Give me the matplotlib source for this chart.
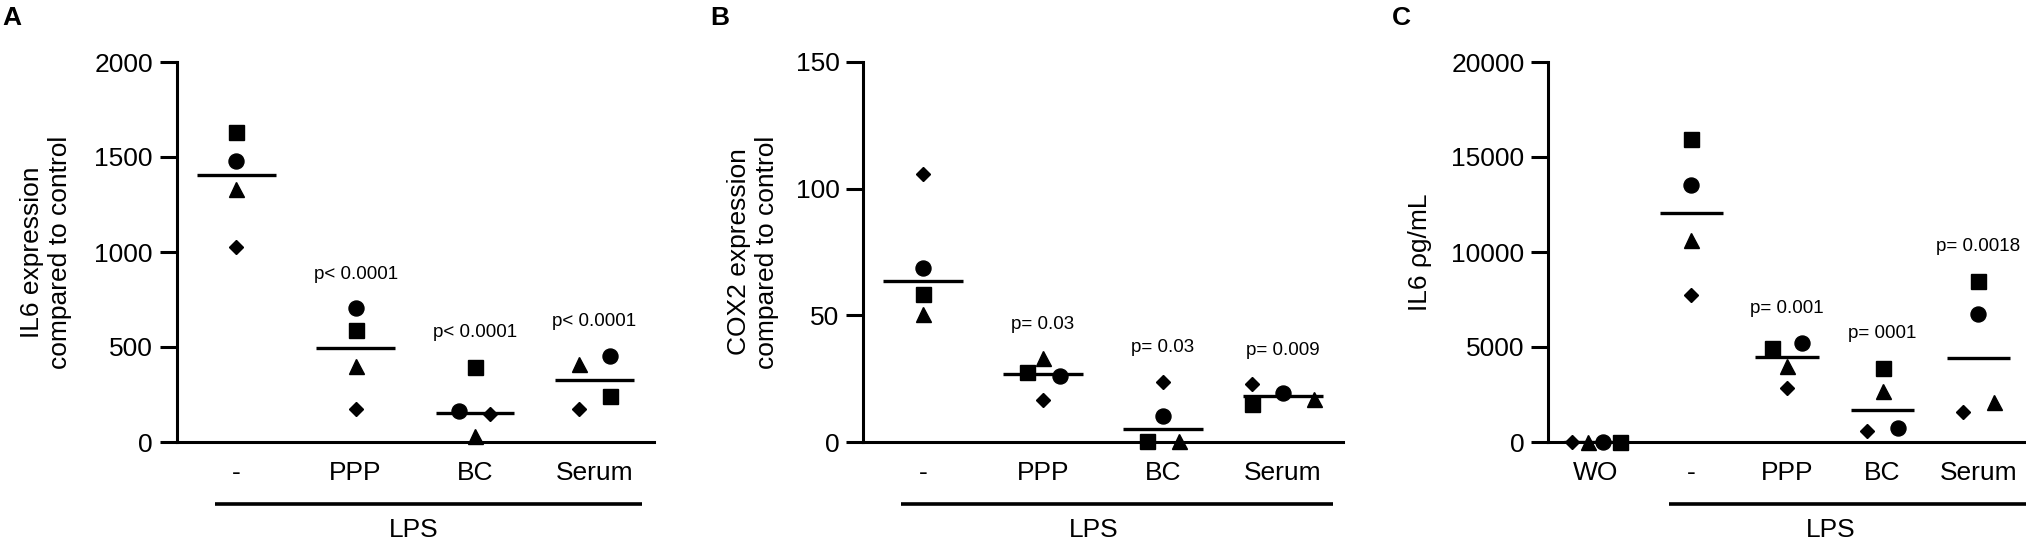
import numpy as np
import matplotlib
matplotlib.use("Agg")
import matplotlib.pyplot as plt

plt.rcParams["font.family"] = ["Liberation Sans", "DejaVu Sans"]

# ---- data ----
# A: IL6 expression compared to control
a_groups = ["-", "PPP", "BC", "Serum"]
a_square = [1634, 592, 397, 240]
a_circle = [1479, 705, 164, 455]
a_triangle = [1333, 401, 33, 410]
a_diamond = [1024, 173, 146, 173]
a_pvalues = ["", "p< 0.0001", "p< 0.0001", "p< 0.0001"]

# B: COX2 expression compared to control
b_groups = ["-", "PPP", "BC", "Serum"]
b_square = [58.5, 27.6, 0.3, 15.0]
b_circle = [68.7, 26.2, 10.2, 19.5]
b_triangle = [50.5, 33.1, 0.3, 17.1]
b_diamond = [105.6, 16.4, 23.8, 22.8]
b_pvalues = ["", "p= 0.03", "p= 0.03", "p= 0.009"]

# C: IL6 pg/mL
c_groups = ["WO", "-", "PPP", "BC", "Serum"]
c_square = [0, 15956, 4950, 3917, 8486]
c_circle = [0, 13509, 5222, 725, 6763]
c_triangle = [0, 10607, 3989, 2684, 2103]
c_diamond = [0, 7760, 2865, 598, 1596]
c_pvalues = ["", "", "p= 0.001", "p= 0001", "p= 0.0018"]

# ---- layout ----
W, H = 2026, 539
FONT = 19
MARKERS = {"s": 10.8, "o": 10.8, "^": 10.8, "D": 7.6}

panels = [
    dict(label="A", groups=a_groups, pvalues=a_pvalues,
         series=[("s", a_square), ("o", a_circle), ("^", a_triangle), ("D", a_diamond)],
         jitter={"s": [0, 0, 0, 0.13], "o": [0, 0, -0.13, 0.13],
                 "^": [0, 0, 0, -0.13], "D": [0, 0, 0.13, -0.13]},
         left=176.5, right=654, ylim=2000, yticks=[0, 500, 1000, 1500, 2000],
         ylabel="IL6 expression\ncompared to control", ylabel_x=46,
         lps=(-0.18, 3.4, 1.49), tag_x=2),
    dict(label="B", groups=b_groups, pvalues=b_pvalues,
         series=[("s", b_square), ("o", b_circle), ("^", b_triangle), ("D", b_diamond)],
         jitter={"s": [0, -0.13, -0.13, -0.26], "o": [0, 0.14, 0, 0],
                 "^": [0, 0, 0.13, 0.26], "D": [0, 0, 0, -0.26]},
         left=863, right=1343, ylim=150, yticks=[0, 50, 100, 150],
         ylabel="COX2 expression\ncompared to control", ylabel_x=753,
         lps=(-0.18, 3.42, 1.42), tag_x=710),
    dict(label="C", groups=c_groups, pvalues=c_pvalues,
         series=[("s", c_square), ("o", c_circle), ("^", c_triangle), ("D", c_diamond)],
         jitter={"s": [0.25, 0, -0.16, 0, 0], "o": [0.08, 0, 0.16, 0.16, 0],
                 "^": [-0.08, 0, 0, 0, 0.17], "D": [-0.25, 0, 0, -0.16, -0.16]},
         left=1548, right=2026, ylim=20000, yticks=[0, 5000, 10000, 15000, 20000],
         ylabel="IL6 \u03c1g/mL", ylabel_x=1420,
         lps=(0.77, 4.5, 2.46), tag_x=1392),
]

AX_BOTTOM, AX_TOP = 442, 62

fig = plt.figure(figsize=(W / 100, H / 100), dpi=100)

for p in panels:
    n = len(p["groups"])
    rect = [p["left"] / W, 1 - AX_BOTTOM / H,
            (p["right"] - p["left"]) / W, (AX_BOTTOM - AX_TOP) / H]
    ax = fig.add_axes(rect)
    x = np.arange(n)

    for marker, values in p["series"]:
        xs = x + np.array(p["jitter"][marker])
        ax.plot(xs, values, linestyle="none", marker=marker, color="black",
                markersize=MARKERS[marker], clip_on=False, zorder=4)

    # median lines
    stacked = np.array([v for _, v in p["series"]], dtype=float)
    medians = np.median(stacked, axis=0)
    ax.hlines(medians, x - 0.33, x + 0.33, color="black", lw=2.4, zorder=3)

    # p-values above the highest point of each group
    tops = stacked.max(axis=0)
    for xi, top, txt in zip(x, tops, p["pvalues"]):
        if txt:
            ax.annotate(txt, xy=(xi, top), xytext=(0, 24.5), textcoords="offset points",
                        ha="center", va="center", fontsize=13.5)

    ax.set_xlim(-0.5, n - 0.5)
    ax.set_ylim(0, p["ylim"])
    ax.set_yticks(p["yticks"])
    ax.set_yticklabels([str(t) for t in p["yticks"]])
    ax.set_xticks(x)
    ax.set_xticklabels(p["groups"])
    ax.tick_params(axis="y", direction="out", length=12, width=2.2, pad=5, labelsize=FONT)
    ax.tick_params(axis="x", length=0, pad=14, labelsize=FONT)
    for side in ("top", "right"):
        ax.spines[side].set_visible(False)
    for side in ("left", "bottom"):
        ax.spines[side].set_linewidth(2.2)

    # LPS bracket under the treated groups
    x0, x1, xt = p["lps"]
    tr = ax.get_xaxis_transform()
    y_line = (AX_BOTTOM - 504) / (AX_BOTTOM - AX_TOP)
    y_text = (AX_BOTTOM - 537) / (AX_BOTTOM - AX_TOP)
    ax.plot([x0, x1], [y_line, y_line], color="black", lw=2.6, transform=tr,
            clip_on=False, solid_capstyle="butt")
    ax.text(xt, y_text, "LPS", transform=tr, ha="center", va="baseline", fontsize=FONT)

    fig.text(p["ylabel_x"] / W, 1 - 252 / H, p["ylabel"], rotation=90,
             ha="center", va="center", multialignment="center",
             fontsize=FONT, linespacing=1.25)
    fig.text(p["tag_x"] / W, 1 - 6 / H, p["label"], ha="left", va="top",
             fontsize=FONT, fontweight="bold")

fig.savefig("out.png", dpi=100)
